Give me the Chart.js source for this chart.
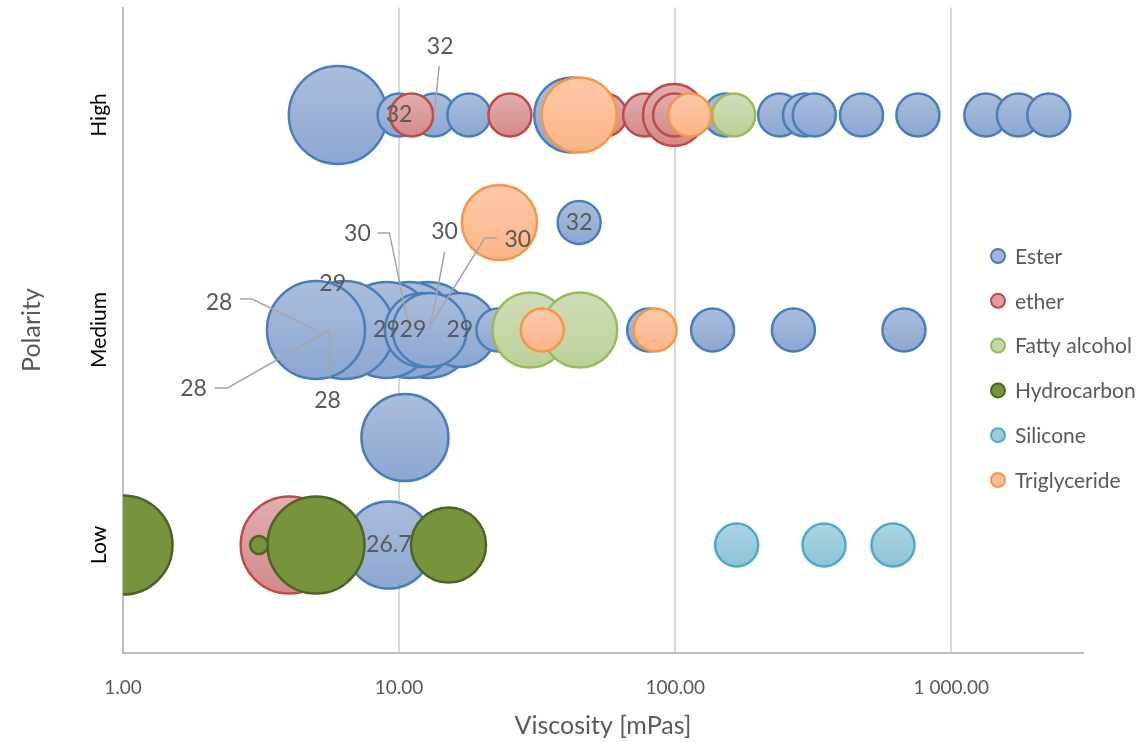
<!DOCTYPE html>
<html><head><meta charset="utf-8">
<script src="https://cdn.jsdelivr.net/npm/chart.js@4.4.1/dist/chart.umd.min.js"></script>
<style>html,body{margin:0;padding:0;background:#fff;}canvas{display:block;}</style>
</head><body>
<canvas id="c" width="1148" height="742"></canvas>
<script>
// ---------- data ----------
const seriesNames = ['Ester', 'ether', 'Fatty alcohol', 'Hydrocarbon', 'Silicone', 'Triglyceride'];
const polarityLabels = ['Low', 'Medium', 'High'];      // polarity 1, 2, 3
const polarityTicks = [1, 2, 3];
const viscosityTicks = [1, 10, 100, 1000];

const esterVisc = [6.0, 10.0, 13.4, 17.9, 42.2, 87, 152, 239, 294, 319, 473, 757, 1334, 1750, 2255,
                   44.9,
                   12.7, 10.9, 9.0, 5.6, 5.6, 6.35, 5.0, 16.6, 12.1, 12.9, 22.8, 80.2, 136.6, 268, 674,
                   10.5,
                   9.18];
const esterPolarity = [3, 3, 3, 3, 3, 3, 3, 3, 3, 3, 3, 3, 3, 3, 3,
                       2.5,
                       2, 2, 2, 2, 2, 2, 2, 2, 2, 2, 2, 2, 2, 2, 2,
                       1.5,
                       1];
const esterSize = [49, 21.5, 21.5, 21.5, 37.5, 21.5, 21.5, 21.5, 21.5, 21.5, 21.5, 21.5, 21.5, 21.5, 21.5,
                   21.5,
                   48, 48, 48, 43, 40, 49, 49, 37, 37, 37, 21.5, 21.5, 21.5, 21.5, 21.5,
                   43.5,
                   43.5];
const esterLabels = [null, '32', '32', null, null, null, null, null, null, null, null, null, null, null, null,
                     '32',
                     '30', '30', '29', '28', '28', '29', '28', '29', '29', '30', null, null, null, null, null,
                     null,
                     '26.7'];

const etherVisc = [11.1, 25.2, 55.7, 77.5, 99, 99.5, 4.0];
const etherPolarity = [3, 3, 3, 3, 3, 3, 1];
const etherSize = [21.5, 21.5, 21.5, 21.5, 31, 21.5, 48.5];

const fattyVisc = [163, 29.8, 45.1];
const fattyPolarity = [3, 2, 2];
const fattySize = [21.5, 37.5, 37.5];

const hydroVisc = [1.0, 5.0, 15.1, 3.11];
const hydroPolarity = [1, 1, 1, 1];
const hydroSize = [49.5, 48.5, 37.5, 9];

const siliconeVisc = [167, 346, 615];
const siliconePolarity = [1, 1, 1];
const siliconeSize = [21.5, 21.5, 21.5];

const trigVisc = [44.9, 113, 23.1, 33.0, 84.6];
const trigPolarity = [3, 3, 2.5, 2, 2];
const trigSize = [37.5, 21.5, 37.5, 21.5, 21.5];

// ---------- styles ----------
const FONT = 'Lato, "Open Sans", sans-serif';
const styles = [
  {top: '#aabddc', bottom: '#8da7d2', border: '#4a7ebb', legend: '#9db3d8'},
  {top: '#e0afae', bottom: '#d38a89', border: '#be4b48', legend: '#da9e9d'},
  {top: '#d0ddb9', bottom: '#bbd197', border: '#9bbb59', legend: '#c6d7a8'},
  {top: '#77933c', bottom: '#77933c', border: '#4f6228', legend: '#77933c'},
  {top: '#acd4e2', bottom: '#8dc3d6', border: '#4bacc6', legend: '#9dcbdc'},
  {top: '#fdc9a8', bottom: '#fbb487', border: '#f79646', legend: '#fcbf98'}
];

// label placement for Ester points (offsets from the point, leader polyline ending at the point)
const labelPlacement = {
  1: {dx: 0, dy: 0},
  2: {dx: 6, dy: -68, leader: [[5, -49], [0, 0]]},
  15: {dx: 0, dy: 0},
  16: {dx: 90, dy: -90, leader: [[69, -92], [57, -92], [0, 0]]},
  17: {dx: -52, dy: -96, leader: [[-32, -97], [-20, -97], [0, 0]]},
  18: {dx: 0, dy: 0},
  19: {dx: -136, dy: 59, leader: [[-115, 58], [-102, 58], [0, 0]]},
  20: {dx: -2, dy: 71, leader: [[0, 47], [0, 0]]},
  21: {dx: -12, dy: -46},
  22: {dx: -97, dy: -27, leader: [[-76, -31], [-64, -31], [0, 0]]},
  23: {dx: 0, dy: 0},
  24: {dx: -9, dy: 0},
  25: {dx: 15, dy: -98, leader: [[15, -78], [0, 0]]},
  32: {dx: 0, dy: 0}
};

// the chart area is fixed by the axes, bubbles may overflow it like in the original
Chart.BubbleController.prototype.getMaxOverflow = function () { return 0; };

function points(v, p, s) { return v.map((x, i) => ({x: x, y: p[i], r: s[i]})); }

function grad(top, bottom) {
  return function (c) {
    const chart = c.chart, raw = c.raw;
    const ys = chart.scales && chart.scales.y;
    if (!raw || !ys || !chart.chartArea || top === bottom) return bottom;
    const cy = ys.getPixelForValue(raw.y);
    if (!isFinite(cy)) return bottom;
    const g = chart.ctx.createLinearGradient(0, cy - raw.r, 0, cy + raw.r);
    g.addColorStop(0, top); g.addColorStop(1, bottom);
    return g;
  };
}

const seriesPoints = [
  points(esterVisc, esterPolarity, esterSize),
  points(etherVisc, etherPolarity, etherSize),
  points(fattyVisc, fattyPolarity, fattySize),
  points(hydroVisc, hydroPolarity, hydroSize),
  points(siliconeVisc, siliconePolarity, siliconeSize),
  points(trigVisc, trigPolarity, trigSize)
];

const datasets = seriesNames.map((name, i) => ({
  label: name,
  data: seriesPoints[i],
  order: seriesNames.length - 1 - i,   // later series drawn on top
  backgroundColor: grad(styles[i].top, styles[i].bottom),
  borderColor: styles[i].border,
  borderWidth: 2.5,
  clip: {left: 0, top: false, right: false, bottom: false}
}));

const overlay = {
  id: 'overlay',
  afterDatasetsDraw(chart) {
    const ctx = chart.ctx;
    const meta = chart.getDatasetMeta(0);
    ctx.save();
    esterLabels.forEach((t, i) => {
      if (t === null) return;
      const el = meta.data[i];
      const pl = labelPlacement[i] || {dx: 0, dy: 0};
      if (pl.leader) {
        ctx.beginPath();
        pl.leader.forEach((p, k) => {
          const px = el.x + p[0], py = el.y + p[1];
          if (k === 0) ctx.moveTo(px, py); else ctx.lineTo(px, py);
        });
        ctx.strokeStyle = '#a6a6a6';
        ctx.lineWidth = 1.5;
        ctx.stroke();
      }
      ctx.font = '23px ' + FONT;
      ctx.fillStyle = '#595959';
      ctx.textAlign = 'center';
      ctx.textBaseline = 'middle';
      ctx.fillText(t, el.x + pl.dx, el.y + pl.dy);
    });
    ctx.restore();
  },
  afterDraw(chart) {
    const ctx = chart.ctx;
    const ys = chart.scales.y;
    ctx.save();
    // y category labels
    ctx.font = '21px ' + FONT;
    ctx.fillStyle = '#000000';
    ctx.textAlign = 'center';
    ctx.textBaseline = 'middle';
    polarityTicks.forEach((v, i) => {
      ctx.save();
      ctx.translate(99, ys.getPixelForValue(v));
      ctx.rotate(-Math.PI / 2);
      ctx.fillText(polarityLabels[i], 0, 0);
      ctx.restore();
    });
    // legend
    const lx = 998, ly0 = 256, step = 44.8;
    seriesNames.forEach((name, i) => {
      const y = ly0 + i * step;
      ctx.beginPath();
      ctx.arc(lx, y, 7, 0, Math.PI * 2);
      ctx.fillStyle = styles[i].legend;
      ctx.fill();
      ctx.lineWidth = 2;
      ctx.strokeStyle = styles[i].border;
      ctx.stroke();
      ctx.font = '21px ' + FONT;
      ctx.fillStyle = '#595959';
      ctx.textAlign = 'left';
      ctx.textBaseline = 'middle';
      ctx.fillText(name, 1015, y + 1);
    });
    ctx.restore();
  }
};

function fmt(v) {
  const s = v.toFixed(2);
  const parts = s.split('.');
  return parts[0].replace(/\B(?=(\d{3})+(?!\d))/g, ' ') + '.' + parts[1];
}

new Chart(document.getElementById('c'), {
  type: 'bubble',
  data: {datasets: datasets},
  plugins: [overlay],
  options: {
    responsive: false,
    animation: false,
    events: [],
    layout: {padding: {left: 0, right: 65, top: 7.5, bottom: 0}},
    plugins: {legend: {display: false}, tooltip: {enabled: false}},
    scales: {
      x: {
        type: 'logarithmic',
        min: 1,
        max: 3000,
        afterBuildTicks: (s) => { s.ticks = viscosityTicks.map(v => ({value: v})); },
        afterFit: (s) => { s.height = 89.5; },
        ticks: {
          callback: (v) => fmt(v),
          color: '#595959',
          font: {family: FONT, size: 19},
          padding: 24,
          maxRotation: 0,
          autoSkip: false
        },
        grid: {color: '#d9d9d9', lineWidth: 2, drawTicks: false},
        border: {color: '#bfbfbf', width: 2},
        title: {
          display: true,
          text: 'Viscosity [mPas]',
          color: '#595959',
          font: {family: FONT, size: 25},
          padding: {top: 0, bottom: 1}
        }
      },
      y: {
        type: 'linear',
        min: 0.5,
        max: 3.5,
        afterBuildTicks: (s) => { s.ticks = polarityTicks.map(v => ({value: v})); },
        afterFit: (s) => { s.width = 123; },
        ticks: {display: false},
        grid: {display: false, drawTicks: false},
        border: {color: '#bfbfbf', width: 2},
        title: {
          display: true,
          text: 'Polarity',
          color: '#595959',
          font: {family: FONT, size: 25},
          padding: {top: 17, bottom: 0}
        }
      }
    }
  }
});
</script>
</body></html>
